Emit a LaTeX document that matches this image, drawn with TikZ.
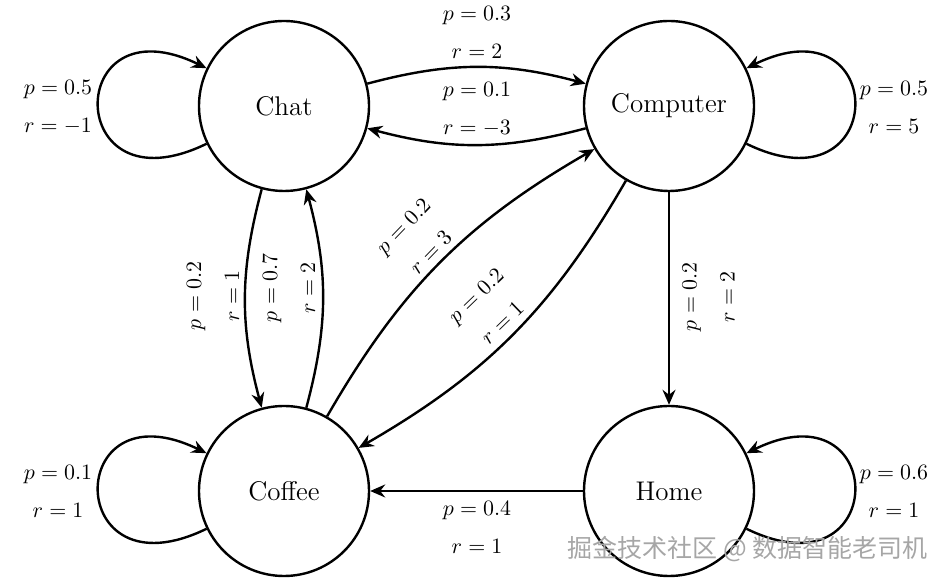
\documentclass[tikz,border=0pt]{standalone}
\usepackage{fontspec}
\newfontfamily\cjkfont{Noto Sans CJK SC}
\usetikzlibrary{arrows.meta}
\begin{document}
\begin{tikzpicture}[x=0.5pt,y=0.5pt,
  state/.style={circle,draw,line width=1.2pt,minimum size=85pt,inner sep=0pt,
    font=\fontsize{13.5}{16}\selectfont},
  edge/.style={line width=1.2pt,-{Stealth[length=7.5pt,width=6.5pt,inset=2.5pt]}},
  lbl/.style={align=center,inner sep=0pt,font=\fontsize{11}{19}\selectfont},
  wm/.style={inner sep=0pt,text=black!35,font=\cjkfont\fontsize{12.5}{15}\selectfont}]
\useasboundingbox (0,0) rectangle (947,582);

\node[state] (Chat) at (284,476) {Chat};
\node[state] (Computer) at (669,476) {Computer};
\node[state] (Coffee) at (284,91) {Coffee};
\node[state] (Home) at (669,91) {Home};

% self loops
\draw[edge] (Chat.206) .. controls +(206:160) and +(154:160) .. (Chat.154);
\draw[edge] (Computer.-26) .. controls +(-26:160) and +(26:160) .. (Computer.26);
\draw[edge] (Coffee.206) .. controls +(206:160) and +(154:160) .. (Coffee.154);
\draw[edge] (Home.-26) .. controls +(-26:160) and +(26:160) .. (Home.26);

% transitions
\draw[edge] (Chat) to[bend left=15] (Computer);
\draw[edge] (Computer) to[bend left=15] (Chat);
\draw[edge] (Chat) to[bend right=15] (Coffee);
\draw[edge] (Coffee) to[bend right=15] (Chat);
\draw[edge] (Coffee) to[bend left=15] (Computer);
\draw[edge] (Computer) to[bend left=15] (Coffee);
\draw[edge] (Computer) -- (Home);
\draw[edge] (Home) -- (Coffee);

% labels
\node[lbl] (lChat) at (58,475) {$p=0.5$\\$r=-1$};
\node[lbl] (lComp) at (894,475) {$p=0.5$\\$r=5$};
\node[lbl] (lCoffee) at (58,91) {$p=0.1$\\$r=1$};
\node[lbl] (lHome) at (894,91) {$p=0.6$\\$r=1$};
\node[lbl] (lTop) at (477,549.5) {$p=0.3$\\$r=2$};
\node[lbl] (lMid) at (477,473) {$p=0.1$\\$r=-3$};
\node[lbl] (lBot) at (477,55) {$p=0.4$\\$r=1$};
\node[lbl,rotate=90] (lChCo) at (213,286) {$p=0.2$\\$r=1$};
\node[lbl,rotate=90] (lCoCh) at (289,294) {$p=0.7$\\$r=2$};
\node[lbl,rotate=90] (lCpH) at (708.5,285) {$p=0.2$\\$r=2$};
\node[lbl,rotate=46] (lCoCp) at (417,343) {$p=0.2$\\$r=3$};
\node[lbl,rotate=44] (lCpCo) at (489,273) {$p=0.2$\\$r=1$};

\node[wm] (wmark) at (747.5,33) {掘金技术社区 @ 数据智能老司机};
\end{tikzpicture}
\end{document}
